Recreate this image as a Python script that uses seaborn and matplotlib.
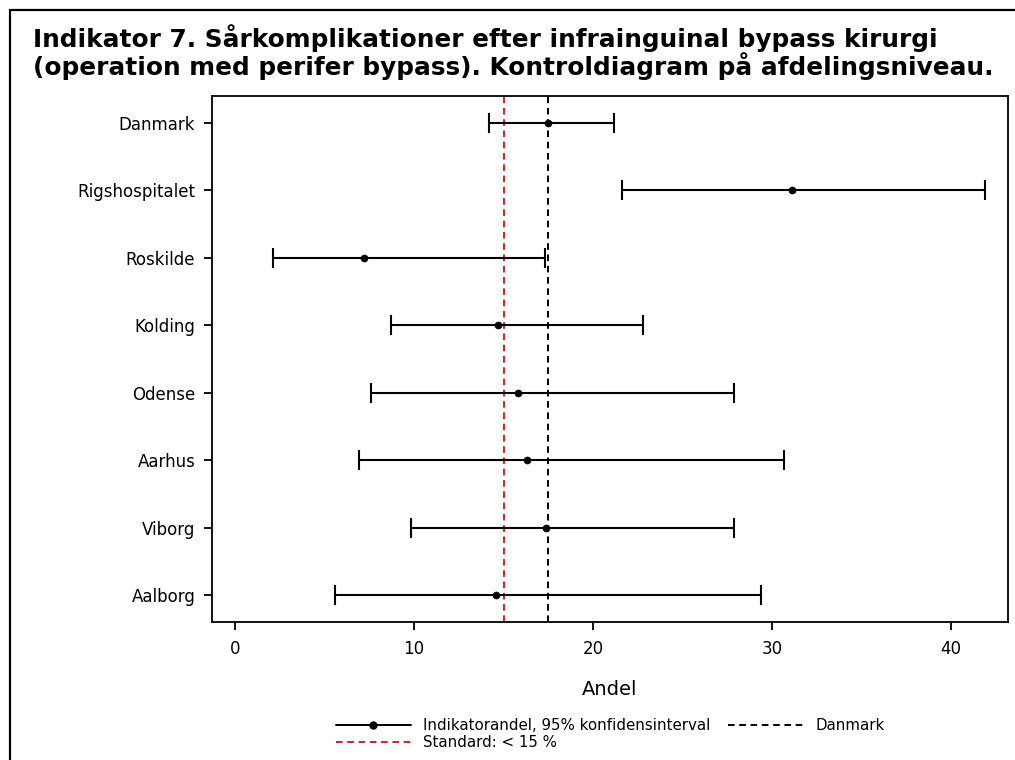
import numpy as np
import pandas as pd
import matplotlib
matplotlib.use("Agg")
import matplotlib.pyplot as plt
import seaborn as sns
from matplotlib.lines import Line2D
from matplotlib.patches import Rectangle

# Data (percent)
units = ['Danmark', 'Rigshospitalet', 'Roskilde', 'Kolding',
         'Odense', 'Aarhus', 'Viborg', 'Aalborg']
andel = [17.5, 31.1, 7.2, 14.7, 15.8, 16.3, 17.4, 14.6]
ci_low = [14.2, 21.6, 2.1, 8.7, 7.6, 6.9, 9.8, 5.6]
ci_high = [21.2, 41.9, 17.3, 22.8, 27.9, 30.7, 27.9, 29.4]
standard = 15
danmark_level = 17.5
x_ticks = [0, 10, 20, 30, 40]

df = pd.DataFrame({'Enhed': units, 'Andel': andel, 'Lav': ci_low, 'Hoej': ci_high})
df['pos'] = np.arange(len(df))

sns.set_style('white')
plt.rcParams['font.family'] = ['DejaVu Sans']
plt.rcParams['text.color'] = 'black'
plt.rcParams['axes.labelcolor'] = 'black'
plt.rcParams['xtick.color'] = 'black'
plt.rcParams['ytick.color'] = 'black'

W, H = 1015, 760
fig = plt.figure(figsize=(W / 100, H / 100), dpi=100)
ax = fig.add_axes([212 / W, 1 - 622 / H, (1008 - 212) / W, (622 - 96) / H])

dash = (0, (3.4, 2.4))
# reference lines
ax.axvline(standard, color='#d62020', linestyle=dash, lw=1.4, zorder=1)
ax.axvline(danmark_level, color='black', linestyle=dash, lw=1.4, zorder=1)

# confidence intervals
ax.errorbar(df['Andel'], df['pos'],
            xerr=[df['Andel'] - df['Lav'], df['Hoej'] - df['Andel']],
            fmt='none', ecolor='black', elinewidth=1.5, capsize=7, capthick=1.5, zorder=2)
sns.scatterplot(data=df, x='Andel', y='pos', color='black', s=26,
                edgecolor='black', ax=ax, zorder=3, legend=False)

ax.set_yticks(df['pos'])
ax.set_yticklabels(units, fontsize=12)
ax.set_ylim(len(units) - 1 + 0.4, -0.4)
ax.set_xticks(x_ticks)
ax.set_xticklabels([str(t) for t in x_ticks], fontsize=12)
ax.set_xlim(-1.3, 43.2)
ax.set_xlabel('Andel', fontsize=14, labelpad=16)
ax.set_ylabel('')
ax.tick_params(axis='both', direction='out', length=6, width=1.3, left=True, bottom=True)
ax.tick_params(axis='y', pad=6)
ax.tick_params(axis='x', pad=7)
for s in ax.spines.values():
    s.set_color('black')
    s.set_linewidth(1.3)

fig.text(33 / W, 1 - 75 / H,
         'Indikator 7. Sårkomplikationer efter infrainguinal bypass kirurgi\n'
         '(operation med perifer bypass). Kontroldiagram på afdelingsniveau.',
         fontsize=17.8, fontweight='bold', ha='left', va='baseline',
         linespacing=1.0, color='black')

# outer frame
fig.patches.append(Rectangle((10 / W, -0.01), 1.05, 1.01 - 10 / H,
                             transform=fig.transFigure, fill=False,
                             edgecolor='black', lw=1.6))

handles = [
    Line2D([0, 0.5, 1], [0, 0, 0], color='black', lw=1.4, marker='o', markersize=5,
           markevery=[1], label='Indikatorandel, 95% konfidensinterval'),
    Line2D([0], [0], color='#d62020', lw=1.4, linestyle=dash,
           label='Standard: < 15 %'),
    Line2D([0], [0], color='black', lw=1.4, linestyle=dash, label='Danmark'),
]
fig.legend(handles=handles, loc='center', bbox_to_anchor=(610 / W, 1 - 734 / H),
           ncol=2, frameon=False, fontsize=10.8, handlelength=5.0,
           columnspacing=1.2, labelspacing=0.15, handletextpad=0.8,
           borderpad=0.2)

fig.savefig('out.png', dpi=100)
